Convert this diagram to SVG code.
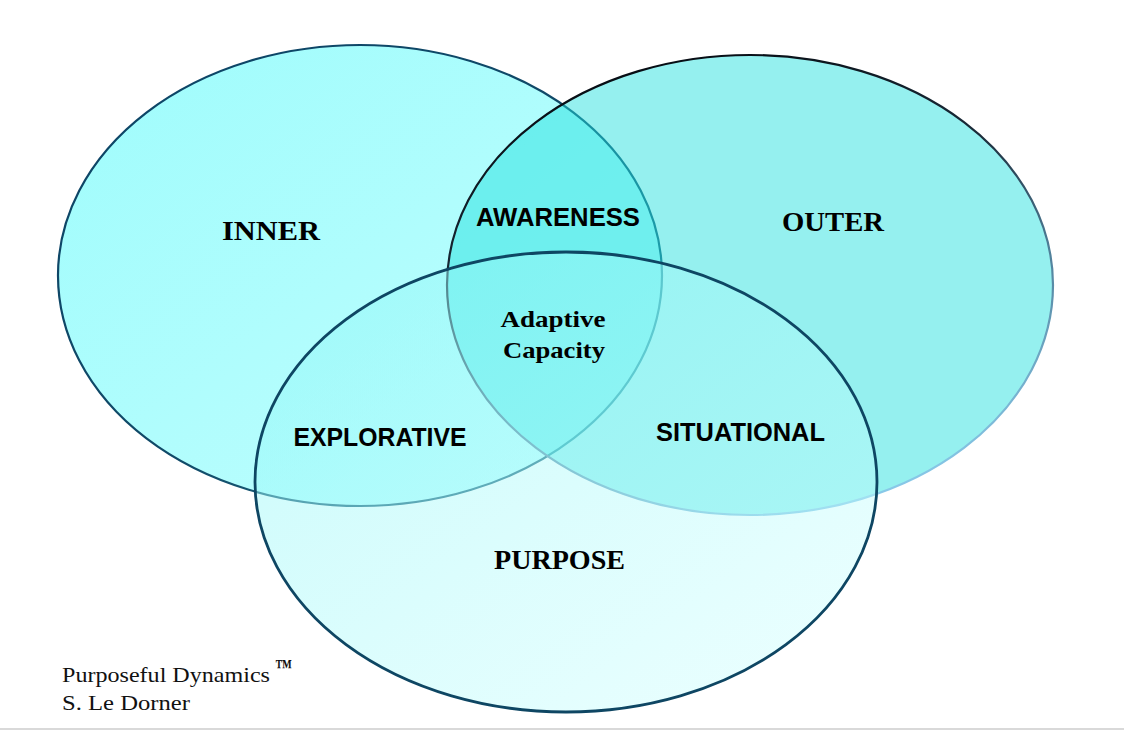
<svg xmlns="http://www.w3.org/2000/svg" width="1124" height="730" viewBox="0 0 1124 730">
  <style>
    .serif { font-family: "Liberation Serif", "Times New Roman", serif; font-weight: bold; fill: #000; }
    .sans { font-family: "Liberation Sans", Arial, sans-serif; font-weight: bold; fill: #000; }
    .foot { font-family: "Liberation Serif", "Times New Roman", serif; font-size: 21px; fill: #111; }
  </style>
  <defs>
    <linearGradient id="innerFill" x1="0" y1="0" x2="1" y2="1">
      <stop offset="0" stop-color="#9EFCFC"/>
      <stop offset="1" stop-color="#C2FEFE"/>
    </linearGradient>
    <linearGradient id="innerStroke" x1="0" y1="0" x2="1" y2="1">
      <stop offset="0" stop-color="#0D4466"/>
      <stop offset="0.55" stop-color="#104A68"/>
      <stop offset="1" stop-color="#2A7C92"/>
    </linearGradient>
    <linearGradient id="outerStroke" x1="0.3" y1="0" x2="0.7" y2="1">
      <stop offset="0" stop-color="#050A10"/>
      <stop offset="0.35" stop-color="#1A2C3A"/>
      <stop offset="0.6" stop-color="#4E7E98"/>
      <stop offset="1" stop-color="#8ED0F0"/>
    </linearGradient>
    <linearGradient id="purposeFill" x1="0" y1="0" x2="1" y2="1">
      <stop offset="0" stop-color="#8AF6F6" stop-opacity="0.48"/>
      <stop offset="1" stop-color="#D2FFFF" stop-opacity="0.42"/>
    </linearGradient>
  </defs>

  <g id="inner">
    <ellipse cx="360" cy="275.5" rx="302" ry="230.5" fill="url(#innerFill)" stroke="url(#innerStroke)" stroke-width="2.2"/>
    <text class="serif" x="271" y="240" font-size="27" text-anchor="middle" textLength="98" lengthAdjust="spacingAndGlyphs">INNER</text>
  </g>

  <g id="outer">
    <ellipse cx="750" cy="285" rx="303" ry="230" fill="#22E0DE" fill-opacity="0.48" stroke="url(#outerStroke)" stroke-width="2.2"/>
    <text class="serif" x="833" y="230.5" font-size="27" text-anchor="middle" textLength="102" lengthAdjust="spacingAndGlyphs">OUTER</text>
  </g>

  <g id="purpose">
    <ellipse cx="566" cy="482" rx="311" ry="230" fill="url(#purposeFill)" stroke="#0E4663" stroke-width="2.8"/>
    <text class="serif" x="559.5" y="569" font-size="27" text-anchor="middle" textLength="131" lengthAdjust="spacingAndGlyphs">PURPOSE</text>
  </g>

  <g id="awareness">
    <text class="sans" x="558" y="226" font-size="25" text-anchor="middle" textLength="164" lengthAdjust="spacingAndGlyphs">AWARENESS</text>
  </g>

  <g id="adaptive-capacity">
    <text class="serif" x="553" y="327" font-size="24" text-anchor="middle" textLength="105" lengthAdjust="spacingAndGlyphs">Adaptive</text>
    <text class="serif" x="554" y="358" font-size="24" text-anchor="middle" textLength="102" lengthAdjust="spacingAndGlyphs">Capacity</text>
  </g>

  <g id="explorative">
    <text class="sans" x="380" y="446" font-size="25" text-anchor="middle" textLength="173" lengthAdjust="spacingAndGlyphs">EXPLORATIVE</text>
  </g>

  <g id="situational">
    <text class="sans" x="740.5" y="441" font-size="25" text-anchor="middle" textLength="169" lengthAdjust="spacingAndGlyphs">SITUATIONAL</text>
  </g>

  <g id="connectors"></g>

  <g id="footer">
    <text class="foot" x="62" y="682" textLength="208" lengthAdjust="spacingAndGlyphs">Purposeful Dynamics</text>
    <text class="foot" x="275" y="674" font-size="12" font-weight="bold" textLength="17" lengthAdjust="spacingAndGlyphs">™</text>
    <text class="foot" x="62" y="710" textLength="128" lengthAdjust="spacingAndGlyphs">S. Le Dorner</text>
  </g>

  <rect x="0" y="728" width="1124" height="2" fill="#D9D9D9"/>
</svg>
